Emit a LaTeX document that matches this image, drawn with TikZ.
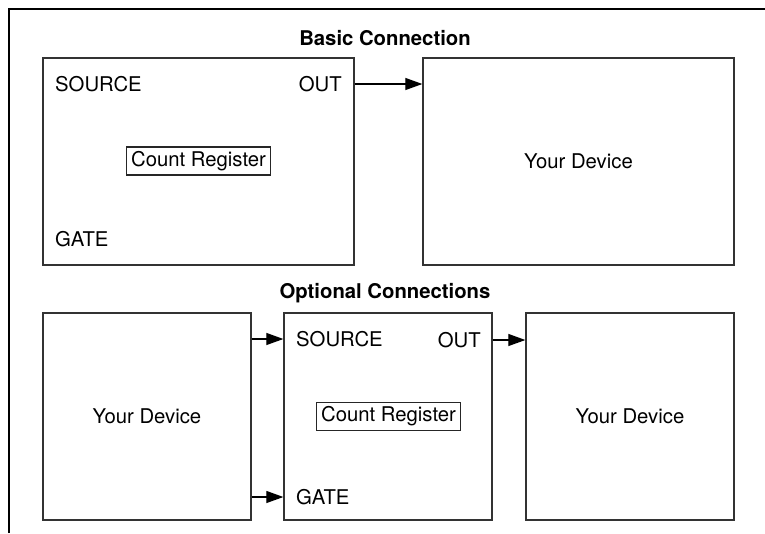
\documentclass[tikz,border=0pt]{standalone}
\usepackage{fontspec}
\setmainfont{TeX Gyre Heros}
\usetikzlibrary{arrows.meta}
\begin{document}
\begin{tikzpicture}[x=1pt,y=-1pt,
  every node/.style={font=\fontsize{20.3}{24}\selectfont},
  blk/.style={draw=black!80,line width=1.3pt,rectangle,inner sep=0pt,minimum height=207pt},
  lbl/.style={inner sep=0pt},
  reg/.style={draw=black!85,line width=1.1pt,inner xsep=5pt,inner ysep=3pt,minimum height=28pt},
  ttl/.style={font=\fontsize{20.3}{24}\selectfont\bfseries,inner sep=0pt},
  conn/.style={line width=1.1pt,-{Triangle[length=17pt,width=12pt]}}]
\useasboundingbox (0,0) rectangle (765,533);
\coordinate (fb) at (9,533);
\coordinate (fr) at (765,9);
\draw[line width=2.3pt] (fb) |- (fr);
% basic connection
\node[ttl] (t1) at (385,38) {Basic Connection};
\node[blk,minimum width=311pt] (box1) at (198.5,161.5) {};
\node[blk,minimum width=311pt] (dev1) at (578.5,161.5) {Your Device};
\node[lbl,anchor=west] (src1) at (55,84) {SOURCE};
\node[lbl,anchor=east] (out1) at (342,84) {OUT};
\node[lbl,anchor=west] (gate1) at (55,239) {GATE};
\node[reg] (cr1) at (198.5,161) {Count Register};
\draw[conn] (box1.east |- out1) -- (dev1.west |- out1);
% optional connections
\node[ttl] (t2) at (385,293) {Optional Connections};
\node[blk,minimum width=208pt] (dev2) at (147,416.5) {Your Device};
\node[blk,minimum width=208pt] (box2) at (388,416.5) {};
\node[blk,minimum width=208pt] (dev3) at (630,416.5) {Your Device};
\node[lbl,anchor=west] (src2) at (296,339) {SOURCE};
\node[lbl,anchor=east] (out2) at (481,340) {OUT};
\node[lbl,anchor=west] (gate2) at (296,497) {GATE};
\node[reg] (cr2) at (388.5,416.5) {Count Register};
\draw[conn] (dev2.east |- src2) -- (box2.west |- src2);
\draw[conn] (dev2.east |- gate2) -- (box2.west |- gate2);
\draw[conn] (box2.east |- out2) -- (dev3.west |- out2);
\end{tikzpicture}
\end{document}
